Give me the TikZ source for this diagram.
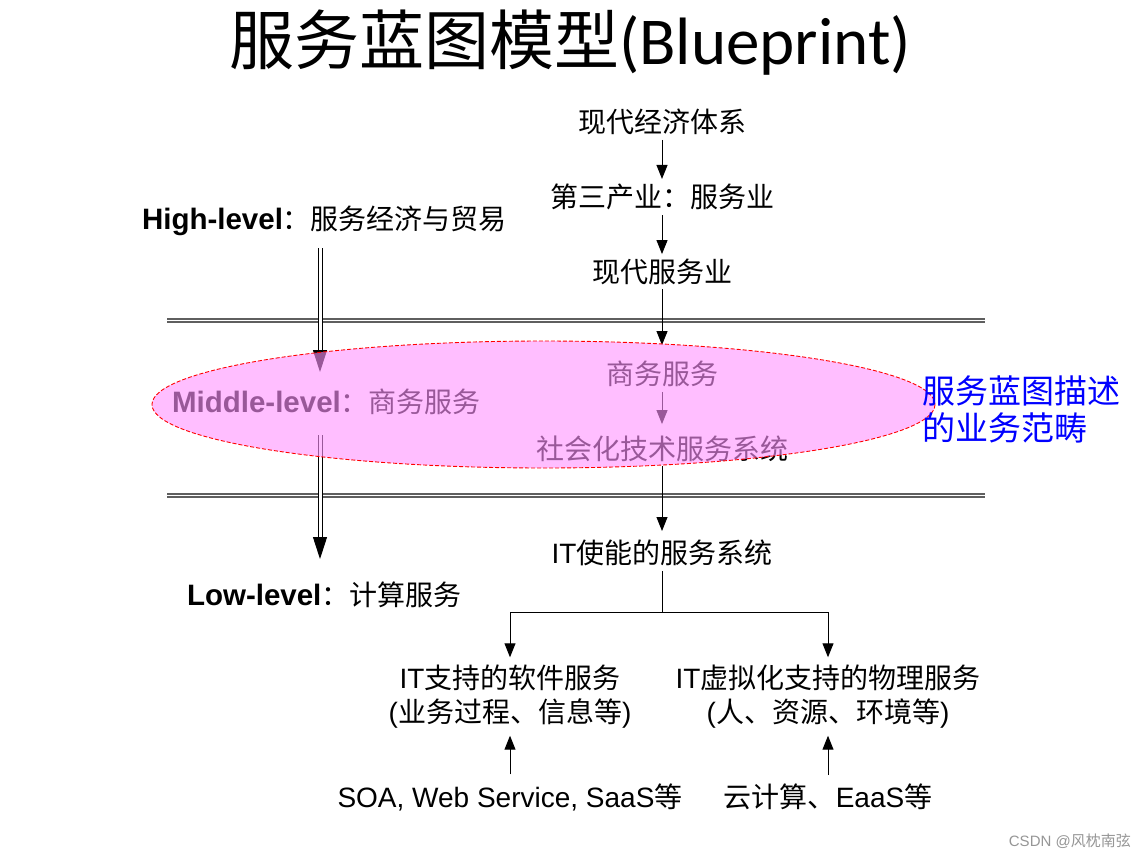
\documentclass[tikz,border=0pt]{standalone}
\usepackage{fontspec}
\setmainfont{Noto Sans CJK SC}
\newfontfamily\enf{Liberation Sans}
\newfontfamily\calf{Carlito}
\usetikzlibrary{arrows.meta,calc}
\definecolor{pinkfill}{RGB}{255,147,255}
\definecolor{sepgray}{RGB}{95,95,95}
\definecolor{wmgray}{RGB}{150,150,150}
\newcommand\en[1]{{\enf #1}}
\newcommand\lv[1]{{\enf\bfseries\fontsize{29.5}{34}\selectfont #1}}
\tikzset{
  lbl/.style={inner sep=0pt, outer sep=0pt, font=\fontsize{28}{34}\selectfont, align=center},
  arr/.style={-{Triangle[width=11pt,length=14pt]}, line width=1pt},
  dblarr/.style={-{Triangle[width=14pt,length=22pt]}, double=white, double distance=3pt, line width=1pt},
  sepline/.style={draw=sepgray, double=white, double distance=1.6pt, line width=1.3pt},
}
\begin{document}
\begin{tikzpicture}[x=1pt,y=-1pt]
\useasboundingbox (0,0) rectangle (1146,859);
\fill[white] (0,0) rectangle (1146,859);
% title
\node[inner sep=0pt] (title) at (570,43) {\fontsize{65}{70}\selectfont 服务蓝图模型{\calf\fontsize{67}{70}\selectfont (Blueprint)}};
% separators
\draw[sepline] (167,320.5) -- (985,320.5);
\draw[sepline] (167,495.5) -- (985,495.5);
% central chain
\node[lbl] (a) at (662,122) {现代经济体系};
\node[lbl] (b) at (662,197) {第三产业：服务业};
\node[lbl] (c) at (662,272) {现代服务业};
\node[lbl] (d) at (662,374) {商务服务};
\node[lbl] (e) at (662,449) {社会化技术服务系统};
\node[lbl] (f) at (662,553) {\en{IT}使能的服务系统};
\node[lbl] (g) at (510,697) {\en{IT}支持的软件服务\\\en{(}业务过程、信息等\en{)}};
\node[lbl] (h) at (828,697) {\en{IT}虚拟化支持的物理服务\\\en{(}人、资源、环境等\en{)}};
\node[lbl] (i) at (510,797) {\en{SOA, Web Service, SaaS}等};
\node[lbl] (j) at (828,797) {云计算、\en{EaaS}等};
\draw[arr, shorten <=5pt, shorten >=5pt] (a) -- (b);
\draw[arr, shorten <=5pt, shorten >=5pt] (b) -- (c);
\draw[arr, shorten <=4pt, shorten >=16pt] (c) -- (d);
\draw[arr, shorten <=5pt, shorten >=12pt] (d) -- (e);
\draw[line width=1pt, shorten <=4pt] (e) -- (662,468);
\draw[arr, shorten >=9pt] (662,468) -- (f);
\coordinate (br) at (662,612);
\draw[line width=1pt, shorten <=5pt] (f) -- (br);
\draw[arr, shorten >=8pt] (br) -| (g);
\draw[arr, shorten >=8pt] (br) -| (h);
\draw[arr, shorten <=9pt, shorten >=7pt] (i) -- (g);
\draw[arr, shorten <=9pt, shorten >=7pt] (j) -- (h);
% left levels
\node[lbl, anchor=west] (hi) at (142,221) {\lv{High-level}：服务经济与贸易};
\node[lbl, anchor=west] (mi) at (172,402) {\lv{Middle-level}：商务服务};
\node[lbl, anchor=west] (lo) at (187,595) {\lv{Low-level}：计算服务};
\coordinate (h1) at (320,248);
\coordinate (h2) at (320,372);
\coordinate (l1) at (320,435);
\coordinate (l2) at (320,559);
\draw[dblarr] (h1) -- (h2);
\draw[dblarr] (l1) -- (l2);
% ellipse overlay
\draw[fill=pinkfill, fill opacity=0.6, draw=red, line width=0.9pt, dash pattern=on 4pt off 2pt] (543.5,404.5) ellipse [x radius=391.5, y radius=63.5];
% right blue note
\node[inner sep=0pt, anchor=west, align=left, text=blue, font=\fontsize{33}{37}\selectfont] (note) at (922,409) {服务蓝图描述\\的业务范畴};
% watermark
\node[inner sep=0pt, anchor=east, text=wmgray, font=\fontsize{15}{18}\selectfont] (wm) at (1131,841) {\en{CSDN @}风枕南弦};
\end{tikzpicture}
\end{document}
